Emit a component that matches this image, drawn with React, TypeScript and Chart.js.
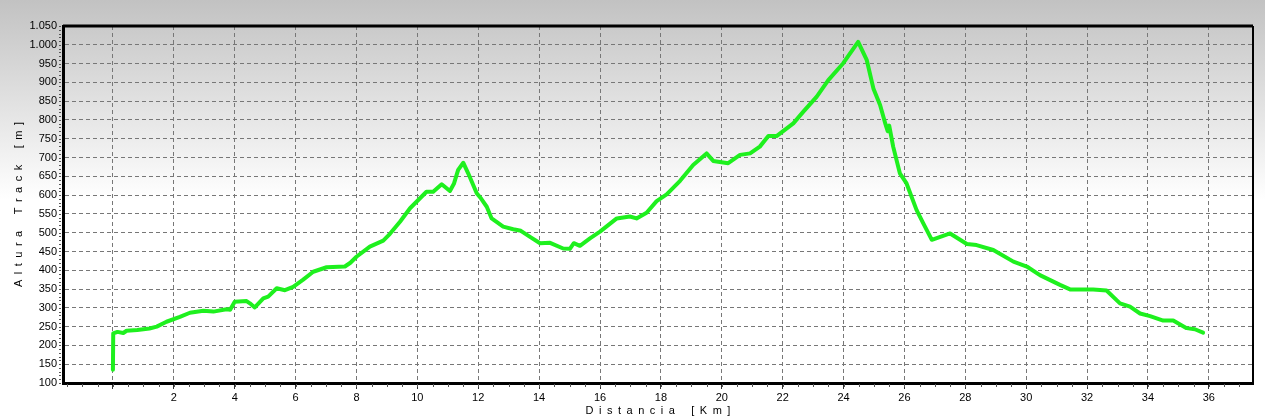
import React, { useEffect, useRef } from "react";
import { Chart, registerables } from "chart.js";

Chart.register(...registerables);

const distKm: number[] = [
  0, 0.01, 0.15, 0.34, 0.45, 0.8, 1.2, 1.44, 1.76, 2.2, 2.53, 2.97, 3.3, 3.73, 3.85, 4.0, 4.39, 4.5, 4.66, 4.94,
  5.1, 5.38, 5.65, 5.92, 6.25, 6.58, 7.02, 7.62, 7.8, 8.0, 8.44, 8.88, 9.1, 9.43, 9.76, 10.3, 10.52, 10.8, 11.07,
  11.2, 11.34, 11.51, 11.67, 11.95, 12.1, 12.28, 12.44, 12.82, 13.15, 13.4, 13.7, 14.03, 14.36, 14.79, 15.01,
  15.14, 15.34, 15.67, 16.0, 16.55, 16.98, 17.2, 17.53, 17.86, 18.19, 18.63, 19.06, 19.5, 19.72, 20.21, 20.6,
  20.93, 21.25, 21.53, 21.8, 22.35, 22.68, 23.12, 23.5, 23.99, 24.48, 24.76, 24.98, 25.2, 25.38, 25.45, 25.5,
  25.63, 25.85, 26.07, 26.4, 26.62, 26.9, 27.5, 28.05, 28.37, 28.92, 29.58, 30.02, 30.45, 31.11, 31.44, 32.2,
  32.64, 33.08, 33.41, 33.74, 34.07, 34.5, 34.83, 35.27, 35.54, 35.81,
];

const altM: number[] = [
  135, 232, 236, 233, 239, 241, 245, 250, 263, 276, 287, 292, 290, 296, 295, 316, 318, 312, 301, 325,
  330, 352, 347, 356, 375, 396, 408, 410, 420, 436, 463, 479, 497, 529, 565, 609, 609, 629, 611,
  630, 667, 686, 658, 605, 590, 569, 538, 516, 509, 505, 489, 472, 473, 458, 457,
  472, 465, 485, 503, 538, 543, 538, 553, 584, 602, 638, 680, 711, 691, 685, 707,
  711, 729, 757, 757, 791, 822, 862, 906, 951, 1008, 960, 884, 840, 788, 770, 785,
  729, 658, 631, 560, 525, 481, 498, 470, 467, 454, 423, 410, 387, 361, 349, 349,
  346, 312, 303, 285, 278, 266, 266, 246, 243, 234,
];

const xTicks: number[] = [0, 2, 4, 6, 8, 10, 12, 14, 16, 18, 20, 22, 24, 26, 28, 30, 32, 34, 36];
const xMin = -1.64;
const xMax = 37.45;
const yMin = 100;
const yMax = 1050;
const yStep = 50;

const spaced = (s: string) =>
  s
    .split(" ")
    .map((w) => w.split("").join("\u2002"))
    .join("\u2002\u2002\u2002");

const xTitle = spaced("Distancia [Km]");
const yTitle = spaced("Altura Track [m]");

const FONT = "'Liberation Sans', Arial, sans-serif";

const bgPlugin = {
  id: "bgGradient",
  beforeDraw(chart: any) {
    const { ctx, width, height } = chart;
    ctx.save();
    const g = ctx.createLinearGradient(0, 0, 0, 200);
    g.addColorStop(0, "#c2c2c2");
    g.addColorStop(1, "#ffffff");
    ctx.fillStyle = g;
    ctx.fillRect(0, 0, width, height);
    ctx.restore();
  },
};

const framePlugin = {
  id: "frame",
  afterDraw(chart: any) {
    const { ctx, chartArea, scales } = chart;
    const { left, right, top, bottom } = chartArea;
    ctx.save();
    ctx.strokeStyle = "#555";
    ctx.lineWidth = 1;
    const xs = scales.x;
    ctx.beginPath();
    for (let v = Math.ceil(xMin * 2) / 2; v <= xMax; v += 0.5) {
      const px = Math.round(xs.getPixelForValue(v)) + 0.5;
      ctx.moveTo(px, bottom + 1);
      ctx.lineTo(px, bottom + 4);
    }
    ctx.stroke();
    const ys = scales.y;
    ctx.beginPath();
    for (let v = yMin; v <= yMax; v += 10) {
      const py = Math.round(ys.getPixelForValue(v)) + 0.5;
      ctx.moveTo(left - 4, py);
      ctx.lineTo(left - 2, py);
    }
    ctx.stroke();
    ctx.strokeStyle = "#000";
    ctx.lineWidth = 3;
    ctx.beginPath();
    ctx.moveTo(left, top);
    ctx.lineTo(right, top);
    ctx.stroke();
    ctx.lineWidth = 2;
    ctx.beginPath();
    ctx.moveTo(right, top);
    ctx.lineTo(right, bottom);
    ctx.stroke();
    ctx.restore();
  },
};

function formatThousands(v: number): string {
  const s = String(Math.round(v));
  return s.replace(/\B(?=(\d{3})+(?!\d))/g, ".");
}

export default function App() {
  const canvasRef = useRef<HTMLCanvasElement | null>(null);

  useEffect(() => {
    document.body.style.margin = "0";
    const canvas = canvasRef.current;
    if (!canvas) return;
    const points = distKm.map((d, i) => ({ x: d, y: altM[i] }));
    const chart = new Chart(canvas, {
      type: "line",
      data: {
        datasets: [
          {
            data: points,
            borderColor: "#1ef01e",
            borderWidth: 4,
            pointRadius: 0,
            tension: 0,
            fill: false,
            borderJoinStyle: "round",
            borderCapStyle: "round",
          },
        ],
      },
      plugins: [bgPlugin, framePlugin],
      options: {
        animation: false,
        responsive: false,
        devicePixelRatio: 1,
        layout: { padding: { top: 26, right: 12, left: 0, bottom: 0 } },
        plugins: { legend: { display: false }, tooltip: { enabled: false } },
        scales: {
          x: {
            type: "linear",
            min: xMin,
            max: xMax,
            afterBuildTicks: (scale: any) => {
              scale.ticks = xTicks.map((v) => ({ value: v }));
            },
            afterFit: (scale: any) => {
              scale.height = 37;
            },
            ticks: {
              autoSkip: false,
              maxRotation: 0,
              padding: 2,
              color: "#000",
              font: { family: FONT, size: 11 },
              callback: (v: any) => (Number(v) === 0 ? "" : String(v)),
            },
            grid: {
              color: "#777",
              lineWidth: 1,
              drawTicks: true,
              tickLength: 6,
              tickColor: "#333",
            },
            border: { display: true, color: "#000", width: 3, dash: [4, 3] },
            title: {
              display: true,
              text: xTitle,
              color: "#000",
              font: { family: FONT, size: 11 },
              padding: { top: 0, bottom: 2 },
            },
          },
          y: {
            type: "linear",
            min: yMin,
            max: yMax,
            afterFit: (scale: any) => {
              scale.width = 63;
            },
            ticks: {
              stepSize: yStep,
              padding: 6,
              color: "#000",
              font: { family: FONT, size: 11 },
              callback: (v: any) => formatThousands(Number(v)),
            },
            grid: {
              color: "#777",
              lineWidth: 1,
              drawTicks: false,
            },
            border: { display: true, color: "#000", width: 3, dash: [4, 3] },
            title: {
              display: true,
              text: yTitle,
              color: "#000",
              font: { family: FONT, size: 11 },
              padding: { top: 12, bottom: 0 },
            },
          },
        },
      },
    } as any);
    return () => chart.destroy();
  }, []);

  return (
    <div style={{ width: 1265, height: 420 }}>
      <canvas ref={canvasRef} width={1265} height={420} style={{ display: "block" }} />
    </div>
  );
}
